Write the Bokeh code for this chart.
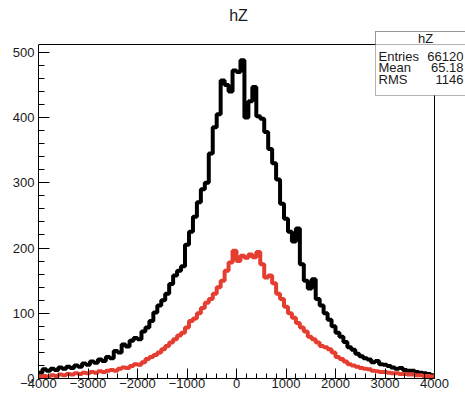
import numpy as np
from bokeh.plotting import figure
from bokeh.models import Range1d, SingleIntervalTicker, Label, BoxAnnotation
from bokeh.embed import file_html
from bokeh.resources import INLINE

# ---- data -------------------------------------------------------------
x_min, x_max, n_bins = -4000, 4000, 100
y_max = 512
black_counts = [9, 14, 12, 15, 13, 17, 15, 18, 16, 20,
                18, 23, 21, 26, 24, 29, 27, 33, 31, 42,
                40, 52, 49, 58, 62, 60, 72, 78, 88, 101,
                112, 120, 130, 145, 158, 165, 172, 205, 225, 248,
                270, 290, 300, 345, 385, 405, 457, 450, 440, 472,
                470, 488, 400, 425, 447, 402, 398, 378, 352, 330,
                305, 268, 245, 225, 210, 230, 175, 150, 138, 152,
                122, 112, 100, 90, 80, 70, 64, 56, 48, 44,
                38, 34, 31, 29, 25, 27, 22, 21, 19, 17,
                15, 16, 13, 12, 12, 10, 9, 8, 7, 5]
red_counts = [3, 4, 3, 5, 4, 6, 5, 7, 6, 8,
              7, 9, 8, 10, 9, 11, 10, 12, 13, 12,
              15, 17, 16, 19, 22, 21, 25, 30, 33, 36,
              40, 45, 50, 55, 60, 66, 70, 78, 88, 92,
              100, 108, 116, 122, 130, 140, 150, 165, 178, 196,
              180, 188, 185, 190, 186, 194, 175, 155, 158, 146,
              130, 122, 110, 100, 93, 85, 78, 72, 64, 60,
              55, 50, 48, 45, 40, 33, 30, 26, 22, 20,
              18, 16, 15, 14, 12, 11, 10, 10, 9, 8,
              8, 7, 7, 6, 6, 5, 5, 4, 4, 3]
title_text = "hZ"
stats_title = "hZ"
stats_names = ["Entries", "Mean", "RMS"]
stats_values = ["66120", "65.18", "1146"]

FONT = "Liberation Sans"
RED = "#e53e30"
TXT = "#1a1a1a"

# ---- layout (pixels in the canvas) ------------------------------------
W, H = 465, 395
FL, FR, FT, FB = 38, 434, 44, 378      # ROOT-style frame box
edges = np.linspace(x_min, x_max, n_bins + 1)

ux = (x_max - x_min) / (FR - FL)       # data units per pixel
uy = y_max / (FB - FT)
xr = Range1d(x_min, x_max + (W - FR) * ux)
yr = Range1d(0, y_max + FT * uy)

p = figure(width=W, height=H, output_backend="svg", toolbar_location=None,
           x_range=xr, y_range=yr,
           min_border_left=FL, min_border_right=0, min_border_top=0,
           min_border_bottom=H - FB)
p.xgrid.visible = False
p.ygrid.visible = False
p.outline_line_color = None
p.background_fill_color = "white"
p.border_fill_color = "white"

p.xaxis.ticker = SingleIntervalTicker(interval=1000, num_minor_ticks=5)
p.yaxis.ticker = SingleIntervalTicker(interval=100, num_minor_ticks=5)
p.xaxis.bounds = (x_min, x_max)
p.yaxis.bounds = (0, y_max)
for ax, tin, mtin, stand in ((p.xaxis[0], 10, 5, 0), (p.yaxis[0], 11, 6, 4)):
    ax.major_tick_in = tin
    ax.major_tick_out = 0
    ax.minor_tick_in = mtin
    ax.minor_tick_out = 0
    ax.major_label_standoff = stand
    ax.major_label_text_font = FONT
    ax.major_label_text_font_size = "13px"
    ax.major_label_text_color = TXT
    ax.axis_line_color = "black"
    ax.major_tick_line_color = "black"
    ax.minor_tick_line_color = "black"

# top and right edges of the frame box
p.segment(x0=[x_min, x_max], y0=[y_max, 0], x1=[x_max, x_max], y1=[y_max, y_max],
          line_color="black", line_width=1)

p.step(x=edges, y=np.append(black_counts, black_counts[-1]), mode="after",
       line_color="black", line_width=4)
p.step(x=edges, y=np.append(red_counts, red_counts[-1]), mode="after",
       line_color=RED, line_width=4)

# title
p.add_layout(Label(x=238, y=15, x_units="canvas", y_units="canvas", text=title_text,
                   text_align="center", text_baseline="middle", text_font=FONT,
                   text_font_size="16px", text_color=TXT))

# stats box
box = dict(left_units="canvas", right_units="canvas", top_units="canvas",
           bottom_units="canvas", fill_color="white", fill_alpha=1.0,
           line_color="black", line_width=1)
p.add_layout(BoxAnnotation(left=375, right=470, top=31, bottom=95, **box))
p.add_layout(BoxAnnotation(left=375, right=470, top=31, bottom=44, **box))
p.add_layout(Label(x=425, y=37.5, x_units="canvas", y_units="canvas", text=stats_title,
                   text_align="center", text_baseline="middle", text_font=FONT,
                   text_font_size="13px", text_color=TXT))
for i, (nm, vl) in enumerate(zip(stats_names, stats_values)):
    yy = 56 + i * 11.4
    p.add_layout(Label(x=378, y=yy, x_units="canvas", y_units="canvas", text=nm,
                       text_align="left", text_baseline="middle", text_font=FONT,
                       text_font_size="13px", text_color=TXT))
    p.add_layout(Label(x=463, y=yy, x_units="canvas", y_units="canvas", text=vl,
                       text_align="right", text_baseline="middle", text_font=FONT,
                       text_font_size="13px", text_color=TXT))

open("out.html", "w").write(file_html(p, INLINE))
